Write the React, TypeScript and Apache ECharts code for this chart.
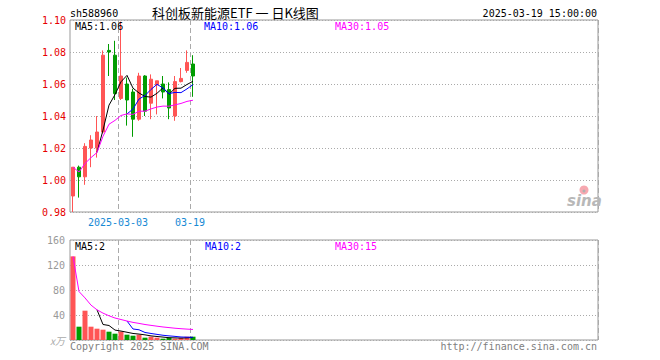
import React, { useEffect, useRef } from "react";
import * as echarts from "echarts";

// ---- data ----
const dates = [
  "2025-02-19", "2025-02-20", "2025-02-21", "2025-02-24", "2025-02-25", "2025-02-26",
  "2025-02-27", "2025-02-28", "2025-03-03", "2025-03-04", "2025-03-05", "2025-03-06",
  "2025-03-07", "2025-03-10", "2025-03-11", "2025-03-12", "2025-03-13", "2025-03-14",
  "2025-03-17", "2025-03-18", "2025-03-19",
];
const opens = [0.990, 1.008, 1.002, 1.020, 1.020, 1.030, 1.081, 1.078, 1.051, 1.060, 1.055, 1.038, 1.065, 1.048, 1.0595, 1.060, 1.0565, 1.040, 1.0615, 1.0685, 1.0725];
const closes = [1.008, 1.002, 1.021, 1.025, 1.030, 1.078, 1.080, 1.054, 1.065, 1.050, 1.038, 1.065, 1.043, 1.063, 1.062, 1.055, 1.045, 1.0615, 1.0635, 1.0735, 1.065];
const lows = [0.980, 0.989, 0.997, 1.008, 1.014, 1.029, 1.065, 1.050, 1.050, 1.034, 1.027, 1.037, 1.040, 1.038, 1.041, 1.051, 1.038, 1.037, 1.061, 1.067, 1.052];
const highs = [1.008, 1.009, 1.023, 1.028, 1.040, 1.081, 1.085, 1.087, 1.099, 1.064, 1.057, 1.067, 1.0655, 1.066, 1.062, 1.065, 1.061, 1.065, 1.070, 1.081, 1.078];
const volumes = [133.8, 21.3, 46.9, 21.3, 18.1, 16.5, 13.3, 10.1, 13.5, 8.5, 6.9, 8.5, 3.7, 5.3, 3.7, 2.1, 3.7, 2.1, 3.7, 5.3, 5.3];

const totalSlots = 88;
const labelIdx = [8, 20];
const priceTicks = { min: 0.98, max: 1.1, interval: 0.02 };
const volTicks = { min: 0, max: 160, interval: 40 };

const titleCode = "sh588960";
const titleText = "科创板新能源ETF 一 日K线图";
const stampText = "2025-03-19 15:00:00";
const priceMaTexts = ["MA5:1.06", "MA10:1.06", "MA30:1.05"];
const volMaTexts = ["MA5:2", "MA10:2", "MA30:15"];
const copyText = "Copyright 2025 SINA.COM";
const urlText = "http://finance.sina.com.cn";

const UP = "#ff5555";
const DOWN = "#009c00";
const MA_COLORS = ["#000000", "#0000ff", "#ff00ff"];
const MONO = "'DejaVu Sans Mono', 'Liberation Mono', monospace";

function movingAvg(vals: number[], n: number, cumulative: boolean) {
  return vals.map((_, i) => {
    if (i < n - 1 && !cumulative) return null;
    const from = Math.max(0, i - n + 1);
    let s = 0;
    for (let k = from; k <= i; k++) s += vals[k];
    return s / (i - from + 1);
  });
}

export default function App() {
  const ref = useRef<HTMLDivElement>(null);
  useEffect(() => {
    if (!ref.current) return;
    const chart = echarts.init(ref.current, undefined, { renderer: "svg" });
    const cats = Array.from({ length: totalSlots }, (_, i) => (i < dates.length ? dates[i] : "slot" + i));
    const kData = dates.map((_, i) => [opens[i], closes[i], lows[i], highs[i]]);
    const volData = volumes.map((v, i) => ({
      value: v,
      itemStyle: { color: closes[i] >= opens[i] ? UP : DOWN },
    }));
    const showIdx = (i: number) => labelIdx.indexOf(i) >= 0;

    const xBase = (gridIndex: number, withLabel: boolean) => ({
      type: "category",
      gridIndex,
      data: cats,
      boundaryGap: true,
      axisLine: { show: false },
      axisTick: { show: false },
      axisLabel: {
        show: withLabel,
        interval: (i: number) => showIdx(i),
        formatter: (v: string, i: number) => (i === labelIdx[0] ? v : v.slice(5)),
        color: "#1789d4",
        fontFamily: MONO,
        fontSize: 10,
        margin: 5,
        padding: [0, 6, 0, 0],
      },
      splitLine: {
        show: true,
        interval: (i: number) => showIdx(i),
        lineStyle: { color: "#aaaaaa", type: [5, 3], width: 1 },
      },
    });

    const maLines = (vals: number[], xi: number, yi: number) =>
      [
        movingAvg(vals, 5, false),
        movingAvg(vals, 10, false),
        movingAvg(vals, 30, true),
      ].map((d, k) => ({
        type: "line",
        xAxisIndex: xi,
        yAxisIndex: yi,
        data: d,
        symbol: "none",
        connectNulls: false,
        lineStyle: { color: MA_COLORS[k], width: 1 },
        z: 5,
      }));

    const txt = (text: string, x: number, y: number, fill: string, extra: any = {}) => ({
      type: "text",
      x,
      y,
      z: 50,
      style: {
        text,
        fill,
        fontFamily: MONO,
        fontSize: 10,
        verticalAlign: "middle",
        align: "left",
        ...extra,
      },
    });

    chart.setOption({
      animation: false,
      backgroundColor: "#ffffff",
      grid: [
        { left: 70, top: 20, width: 528, height: 192, show: true, borderColor: "#999999", borderWidth: 1 },
        { left: 70, top: 240, width: 528, height: 100, show: true, borderColor: "#999999", borderWidth: 1 },
      ],
      xAxis: [xBase(0, true), xBase(1, false)],
      yAxis: [
        {
          type: "value",
          gridIndex: 0,
          min: priceTicks.min,
          max: priceTicks.max,
          interval: priceTicks.interval,
          axisLine: { show: false },
          axisTick: { show: false },
          axisLabel: {
            color: "#e60000",
            fontFamily: MONO,
            fontSize: 10,
            margin: 4,
            formatter: (v: number) => v.toFixed(2),
          },
          splitLine: { lineStyle: { color: "#aaaaaa", type: [1, 2] } },
        },
        {
          type: "value",
          gridIndex: 1,
          min: volTicks.min,
          max: volTicks.max,
          interval: volTicks.interval,
          axisLine: { show: false },
          axisTick: { show: false },
          axisLabel: {
            color: "#999999",
            fontFamily: MONO,
            fontSize: 10,
            margin: 5,
            formatter: (v: number) => (v === 0 ? "{i|x万}" : String(v)),
            rich: { i: { fontStyle: "italic", color: "#aaaaaa", fontSize: 10, fontFamily: "'Noto Sans CJK SC', sans-serif" } },
          },
          splitLine: { lineStyle: { color: "#aaaaaa", type: [1, 2] } },
        },
      ],
      series: [
        {
          type: "candlestick",
          xAxisIndex: 0,
          yAxisIndex: 0,
          data: kData,
          barWidth: 4,
          itemStyle: {
            color: UP,
            color0: DOWN,
            borderColor: UP,
            borderColor0: DOWN,
            borderWidth: 1,
          },
        },
        ...maLines(closes, 0, 0),
        {
          type: "bar",
          xAxisIndex: 1,
          yAxisIndex: 1,
          data: volData,
          barWidth: 5,
        },
        ...maLines(volumes, 1, 1),
      ],
      graphic: [
        txt(titleCode, 70, 13, "#000000"),
        txt(titleText, 152, 12, "#000000", { fontFamily: "'Noto Sans CJK SC', sans-serif", fontSize: 13 }),
        txt(stampText, 597, 13, "#000000", { align: "right" }),
        txt(priceMaTexts[0], 75, 26, MA_COLORS[0]),
        txt(priceMaTexts[1], 204, 26, MA_COLORS[1]),
        txt(priceMaTexts[2], 335, 26, MA_COLORS[2]),
        txt(volMaTexts[0], 75, 246, MA_COLORS[0]),
        txt(volMaTexts[1], 205, 246, MA_COLORS[1]),
        txt(volMaTexts[2], 335, 246, MA_COLORS[2]),
        txt(copyText, 70, 346, "#808080"),
        txt(urlText, 597, 346, "#808080", { align: "right" }),
        {
          type: "circle",
          shape: { cx: 584, cy: 190, r: 4.5 },
          style: { fill: "#f7a8b0" },
          z: 40,
        },
        {
          type: "circle",
          shape: { cx: 584, cy: 191, r: 1.5 },
          style: { fill: "#b0b0b0" },
          z: 41,
        },
        txt("sina", 567, 201, "#b8b8b8", {
          fontFamily: "'DejaVu Sans', sans-serif",
          fontSize: 15,
          fontStyle: "italic",
          fontWeight: "bold",
        }),
      ],
    });
    return () => chart.dispose();
  }, []);
  return (
    <div
      ref={ref}
      style={{ position: "fixed", left: 0, top: 0, width: 660, height: 360 }}
    />
  );
}
